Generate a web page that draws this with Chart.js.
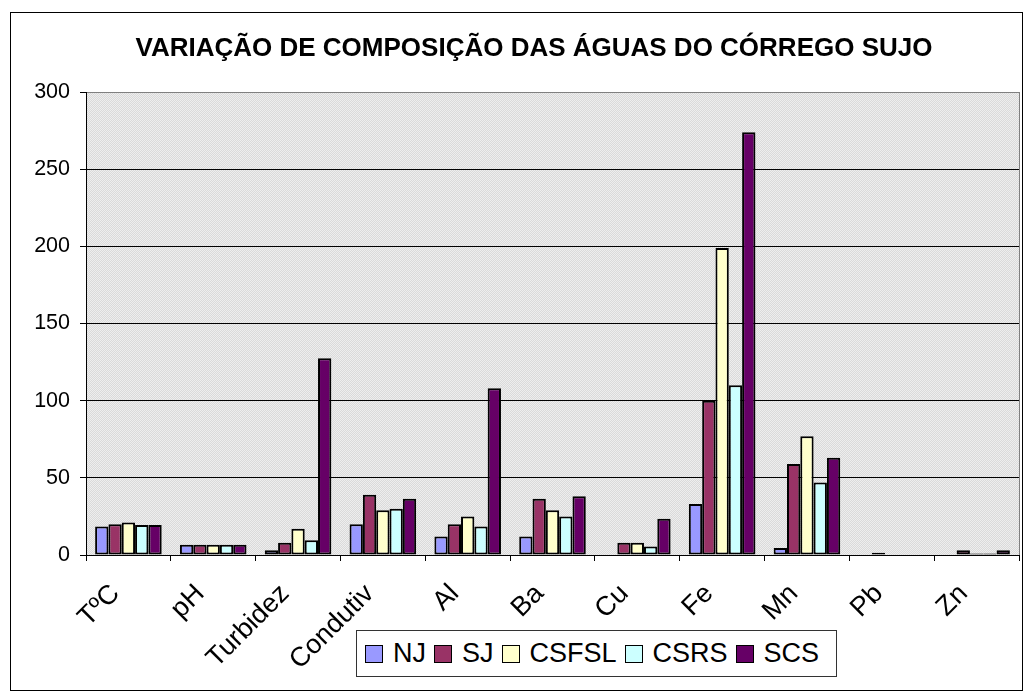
<!DOCTYPE html>
<html>
<head>
<meta charset="utf-8">
<script src="https://cdn.jsdelivr.net/npm/chart.js@4/dist/chart.umd.min.js"></script>
<style>
  body { margin: 0; background: #fff; font-family: "Liberation Sans", Arial, sans-serif; }
  #wrap { position: relative; width: 1027px; height: 694px; }
  #frame { position: absolute; left: 10px; top: 12px; width: 1011px; height: 677px; border: 1px solid #000; pointer-events: none; }
  #title {
    position: absolute; left: 0; top: 32px; width: 1068px; text-align: center;
    font-size: 26px; font-weight: bold; line-height: 31px; color: #000;
  }
  #legend {
    position: absolute; left: 356px; top: 630px; width: 471px; height: 45px;
    border: 1px solid #333; background: #fff;
    display: flex; align-items: center; padding-left: 8px; box-sizing: content-box;
  }
  .item { display: flex; align-items: center; margin-right: 8px; }
  .box { width: 16px; height: 16px; border: 1px solid #000; margin-right: 10px; }
  .label { font-size: 27px; color: #000; }
</style>
</head>
<body>
<div id="wrap">
  <canvas id="chart" width="1027" height="694"></canvas>
  <div id="frame"></div>
  <div id="title"></div>
  <div id="legend"></div>
</div>
<script>
const categories = ["TºC", "pH", "Turbidez", "Condutiv", "Al", "Ba", "Cu", "Fe", "Mn", "Pb", "Zn"];

const seriesNames = ["NJ", "SJ", "CSFSL", "CSRS", "SCS"];
const seriesColors = ["#9999FF", "#993366", "#FFFFCC", "#CCFFFF", "#660066"];

const NJ = [18.5, 6.7, 3, 20, 12, 12, null, 33, 4.5, null, null];
const SJ = [20, 6.7, 8, 39, 20, 36.5, 8, 100, 59, 1.5, 3];
const CSFSL = [21, 6.7, 17, 29, 25, 29, 8, 199, 77, null, 1];
const CSRS = [19.5, 6.7, 9.5, 30, 18.5, 25, 5.5, 110, 47, null, 1];
const SCS = [19.5, 6.7, 127.5, 36.5, 108, 38, 23.5, 274, 63, null, 3];

const yTicks = [0, 50, 100, 150, 200, 250, 300];
const title = "VARIAÇÃO DE COMPOSIÇÃO DAS ÁGUAS DO CÓRREGO SUJO";

const seriesValues = [NJ, SJ, CSFSL, CSRS, SCS];
const FONT = '"Liberation Sans", Arial, sans-serif';

document.getElementById("title").textContent = title;

// dotted grey fill like the old spreadsheet plot area
function makePattern(ctx) {
  const c = document.createElement("canvas");
  c.width = 2; c.height = 2;
  const g = c.getContext("2d");
  g.fillStyle = "#DADADA";
  g.fillRect(0, 0, 2, 2);
  g.fillStyle = "#EEEEEE";
  g.fillRect(0, 0, 1, 1);
  g.fillRect(1, 1, 1, 1);
  return ctx.createPattern(c, "repeat");
}

const plotArea = {
  id: "plotArea",
  beforeDraw(chart) {
    const a = chart.chartArea;
    const ctx = chart.ctx;
    ctx.save();
    ctx.fillStyle = makePattern(ctx);
    ctx.fillRect(a.left, a.top, a.right - a.left, a.bottom - a.top);
    ctx.restore();
  },
  afterDraw(chart) {
    const a = chart.chartArea;
    const ctx = chart.ctx;
    ctx.save();
    ctx.strokeStyle = "#808080";
    ctx.lineWidth = 1;
    ctx.beginPath();
    ctx.moveTo(a.right + 0.5, a.top);
    ctx.lineTo(a.right + 0.5, a.bottom);
    ctx.stroke();
    ctx.restore();
  },
};

const datasets = seriesNames.map((name, i) => ({
  label: name,
  data: seriesValues[i],
  backgroundColor: seriesColors[i],
  borderColor: "#000",
  borderWidth: 2,
  borderSkipped: false,
  categoryPercentage: 0.785,
  barPercentage: 1.0,
}));

const chart = new Chart(document.getElementById("chart"), {
  type: "bar",
  data: { labels: categories, datasets: datasets },
  plugins: [plotArea],
  options: {
    responsive: false,
    animation: false,
    layout: { padding: { left: 12, right: 8, top: 92, bottom: 0 } },
    plugins: {
      legend: { display: false },
      tooltip: { enabled: false },
      title: { display: false },
    },
    scales: {
      x: {
        offset: true,
        grid: { drawOnChartArea: false, drawTicks: true, tickLength: 6, color: "#000", offset: true },
        border: { color: "#000", width: 1 },
        ticks: {
          autoSkip: false,
          minRotation: 45,
          maxRotation: 45,
          color: "#000",
          padding: 17,
          labelOffset: -13,
          font: { family: FONT, size: 27 },
        },
        afterFit(scale) { scale.height = 139; },
      },
      y: {
        min: 0,
        max: 300,
        grid: {
          color: (c) => (c.tick && c.tick.value === 300 ? "#808080" : "#000"),
          tickColor: "#000",
          tickLength: 6,
          lineWidth: 1,
        },
        border: { color: "#000", width: 1 },
        ticks: {
          stepSize: 50,
          color: "#000",
          padding: 10,
          font: { family: FONT, size: 21.5 },
          callback: (v) => (yTicks.includes(v) ? v : ""),
        },
        afterFit(scale) { scale.width = 74; },
      },
    },
  },
});

// legend box sits over the lower right of the category labels
const legend = document.getElementById("legend");
seriesNames.forEach((name, i) => {
  const item = document.createElement("div");
  item.className = "item";
  const box = document.createElement("div");
  box.className = "box";
  box.style.background = seriesColors[i];
  const label = document.createElement("span");
  label.className = "label";
  label.textContent = name;
  item.appendChild(box);
  item.appendChild(label);
  legend.appendChild(item);
});
</script>
</body>
</html>
